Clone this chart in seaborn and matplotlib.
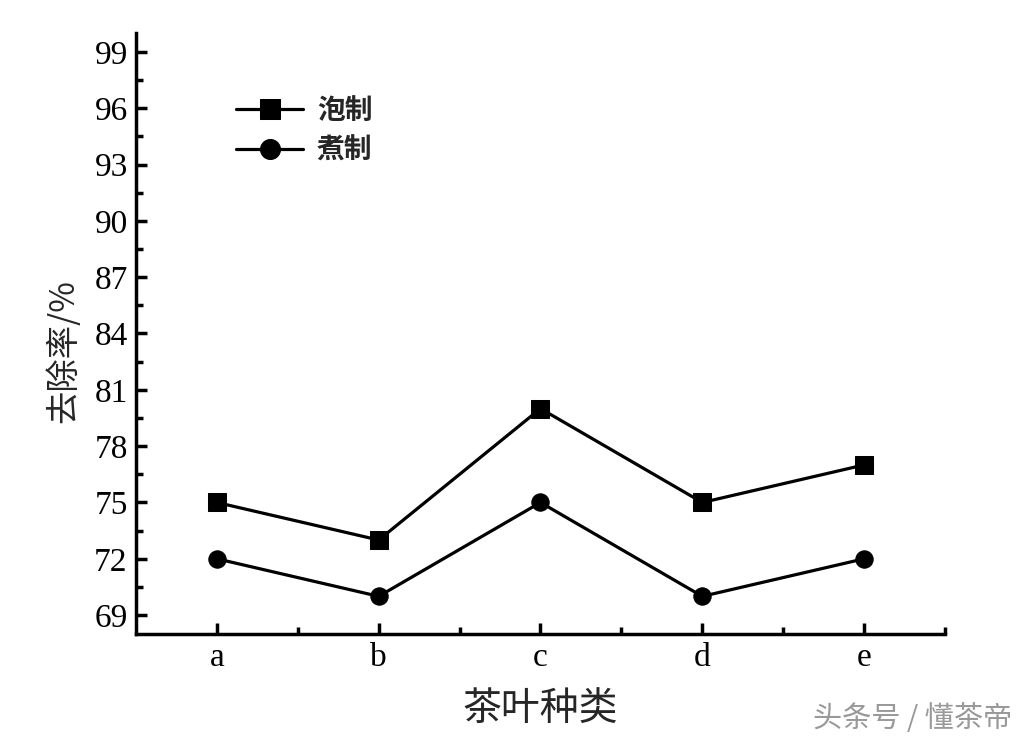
import matplotlib
matplotlib.use("Agg")
import matplotlib.pyplot as plt
import seaborn as sns
import pandas as pd
from matplotlib.ticker import FixedLocator

categories = ["a", "b", "c", "d", "e"]
series_names = ["泡制", "煮制"]
pao_values = [75, 73, 80, 75, 77]
zhu_values = [72, 70, 75, 70, 72]
y_ticks = [69, 72, 75, 78, 81, 84, 87, 90, 93, 96, 99]

df = pd.DataFrame({
    "cat": categories * 2,
    "x": list(range(len(categories))) * 2,
    "val": pao_values + zhu_values,
    "method": [series_names[0]] * 5 + [series_names[1]] * 5,
})

sns.set_theme(style="white")
plt.rcParams["font.family"] = ["Liberation Serif", "Noto Sans CJK SC", "DejaVu Sans"]

fig = plt.figure(figsize=(10.30, 7.44), dpi=100)
ax = fig.add_axes([0.132, 0.148, 0.7855, 0.8075])

sns.lineplot(data=df, x="x", y="val", hue="method", style="method",
             markers={"泡制": "s", "煮制": "o"}, dashes=False,
             palette={"泡制": "black", "煮制": "black"},
             linewidth=2.3, markersize=12.5, markeredgecolor="black",
             ax=ax, legend=True)

ax.set_xlim(-0.5, 4.5)
ax.set_ylim(68, 100)
ax.xaxis.set_major_locator(FixedLocator(range(len(categories))))
ax.set_xticklabels(categories)
ax.xaxis.set_minor_locator(FixedLocator([0.5, 1.5, 2.5, 3.5, 4.5]))
ax.yaxis.set_major_locator(FixedLocator(y_ticks))
ax.yaxis.set_minor_locator(FixedLocator([t + 1.5 for t in y_ticks[:-1]]))

for s in ["top", "right"]:
    ax.spines[s].set_visible(False)
for s in ["left", "bottom"]:
    ax.spines[s].set_color("black")
    ax.spines[s].set_linewidth(2.5)

ax.tick_params(axis="both", which="major", direction="in", length=8, width=2.5,
               colors="black", labelsize=24, pad=6)
ax.tick_params(axis="both", which="minor", direction="in", length=5, width=2.5,
               colors="black")
ax.tick_params(axis="y", which="both", left=True)
ax.tick_params(axis="x", which="both", bottom=True)
for lab in ax.get_xticklabels() + ax.get_yticklabels():
    lab.set_family(["Liberation Serif"])

ax.set_xlabel("茶叶种类", fontsize=28, family=["Noto Sans CJK SC"], labelpad=12)
ax.set_ylabel("去除率/%", fontsize=24, family=["Noto Sans CJK SC", "Liberation Serif"], labelpad=12)
ax.yaxis.set_label_coords(-0.068, 0.47)

leg = ax.legend(loc="upper left", bbox_to_anchor=(0.093, 0.935), frameon=False,
                prop={"family": ["Noto Sans CJK SC"], "weight": "bold", "size": 20},
                handlelength=2.4, handletextpad=0.5, labelspacing=0.4,
                markerscale=1.15)

fig.text(0.983, 0.034, "头条号 / 懂茶帝", ha="right", va="center", fontsize=21,
         color="#999999", family=["Noto Sans CJK SC"])

fig.savefig("out.png", dpi=100, facecolor="white")
